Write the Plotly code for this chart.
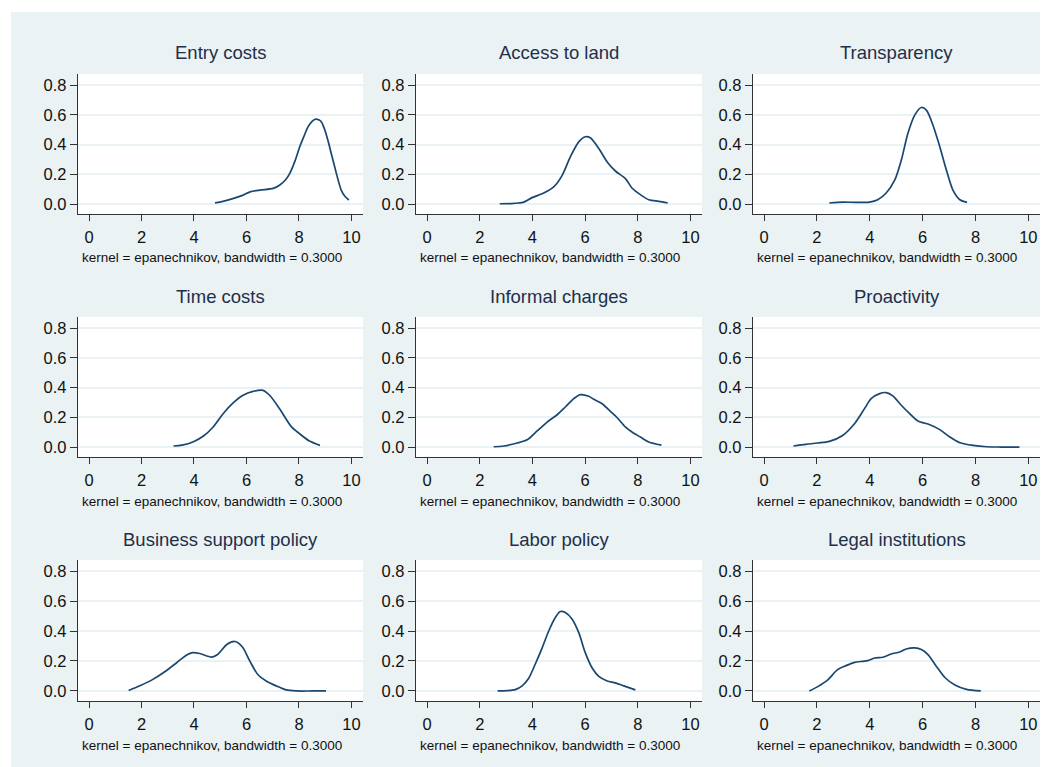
import plotly.graph_objects as go

# ---------------- data ----------------
titles = ["Entry costs", "Access to land", "Transparency",
          "Time costs", "Informal charges", "Proactivity",
          "Business support policy", "Labor policy", "Legal institutions"]

entry_x = [4.80, 5.10, 5.51, 5.85, 6.14, 6.52, 7.02, 7.27, 7.50, 7.65, 7.85, 8.03, 8.20, 8.35, 8.50, 8.64, 8.75, 8.85, 8.97, 9.10, 9.23, 9.36, 9.48, 9.61, 9.75, 9.90]
entry_y = [0.008, 0.018, 0.038, 0.058, 0.082, 0.094, 0.105, 0.128, 0.165, 0.206, 0.290, 0.385, 0.460, 0.520, 0.556, 0.571, 0.566, 0.553, 0.505, 0.430, 0.340, 0.251, 0.170, 0.094, 0.052, 0.027]

land_x = [2.76, 3.20, 3.48, 3.67, 3.99, 4.43, 4.81, 5.13, 5.44, 5.76, 6.01, 6.20, 6.52, 6.84, 7.15, 7.53, 7.78, 8.10, 8.42, 8.80, 9.14]
land_y = [0.002, 0.003, 0.007, 0.013, 0.043, 0.074, 0.115, 0.193, 0.317, 0.418, 0.452, 0.445, 0.373, 0.283, 0.222, 0.171, 0.108, 0.063, 0.029, 0.018, 0.007]

transp_x = [2.47, 2.97, 3.48, 3.99, 4.30, 4.62, 4.94, 5.19, 5.44, 5.70, 5.95, 6.14, 6.39, 6.65, 6.90, 7.15, 7.41, 7.68]
transp_y = [0.007, 0.013, 0.011, 0.013, 0.029, 0.074, 0.160, 0.294, 0.474, 0.598, 0.649, 0.631, 0.530, 0.384, 0.227, 0.092, 0.029, 0.011]

time_x = [3.22, 3.54, 3.98, 4.36, 4.73, 5.11, 5.49, 5.87, 6.25, 6.63, 6.88, 7.26, 7.70, 8.02, 8.40, 8.80]
time_y = [0.007, 0.013, 0.036, 0.074, 0.135, 0.224, 0.296, 0.348, 0.374, 0.381, 0.348, 0.258, 0.139, 0.090, 0.040, 0.011]

informal_x = [2.53, 2.91, 3.42, 3.80, 4.18, 4.56, 4.94, 5.25, 5.57, 5.82, 6.14, 6.33, 6.65, 6.96, 7.22, 7.53, 7.78, 8.10, 8.42, 8.90]
informal_y = [0.002, 0.007, 0.027, 0.049, 0.108, 0.168, 0.217, 0.269, 0.325, 0.352, 0.341, 0.321, 0.291, 0.240, 0.197, 0.135, 0.101, 0.067, 0.034, 0.013]

proact_x = [1.11, 1.58, 2.03, 2.47, 2.97, 3.42, 3.80, 4.05, 4.37, 4.62, 4.87, 5.19, 5.51, 5.82, 6.27, 6.65, 7.03, 7.41, 7.91, 8.42, 8.92, 9.66]
proact_y = [0.007, 0.018, 0.027, 0.038, 0.078, 0.157, 0.258, 0.325, 0.359, 0.366, 0.344, 0.281, 0.224, 0.175, 0.150, 0.117, 0.067, 0.029, 0.011, 0.002, 0.000, 0.000]

business_x = [1.51, 1.96, 2.40, 2.90, 3.35, 3.72, 3.95, 4.22, 4.67, 4.90, 5.25, 5.56, 5.84, 6.12, 6.44, 6.75, 7.13, 7.51, 7.89, 8.52, 9.03]
business_y = [0.003, 0.036, 0.074, 0.130, 0.190, 0.240, 0.256, 0.250, 0.226, 0.243, 0.310, 0.330, 0.295, 0.202, 0.108, 0.067, 0.034, 0.007, 0.000, 0.000, 0.000]

labor_x = [2.68, 3.04, 3.35, 3.61, 3.86, 4.11, 4.37, 4.62, 4.87, 5.06, 5.25, 5.51, 5.76, 6.01, 6.27, 6.52, 6.84, 7.15, 7.47, 7.91]
labor_y = [0.000, 0.002, 0.009, 0.034, 0.085, 0.180, 0.288, 0.400, 0.490, 0.530, 0.524, 0.479, 0.389, 0.254, 0.153, 0.097, 0.067, 0.054, 0.034, 0.007]

legal_x = [1.71, 2.03, 2.41, 2.78, 3.10, 3.42, 3.73, 3.92, 4.18, 4.49, 4.81, 5.13, 5.38, 5.70, 5.95, 6.20, 6.52, 6.84, 7.22, 7.66, 8.20]
legal_y = [0.000, 0.029, 0.074, 0.142, 0.169, 0.191, 0.198, 0.202, 0.220, 0.225, 0.247, 0.260, 0.280, 0.287, 0.276, 0.243, 0.164, 0.090, 0.040, 0.011, 0.000]

x_ticks = [0, 2, 4, 6, 8, 10]
y_ticks = [0.0, 0.2, 0.4, 0.6, 0.8]
y_ticklabels = ["0.0", "0.2", "0.4", "0.6", "0.8"]
note_text = "kernel = epanechnikov, bandwidth = 0.3000"

series = [(entry_x, entry_y), (land_x, land_y), (transp_x, transp_y),
          (time_x, time_y), (informal_x, informal_y), (proact_x, proact_y),
          (business_x, business_y), (labor_x, labor_y), (legal_x, legal_y)]

# ---------------- layout geometry (page pixels; page has 8px body margin) ----------------
OFF = 8
W, H = 1040, 759
col_px = [(78, 363), (416, 702), (753, 1040)]
row_px = [(74, 214), (317, 457), (560, 701)]


def px_x(p):
    return (p - OFF) / W


def px_y(p):
    return 1 - (p - OFF) / H


BG = "#EAF2F3"
LINE = "#1a476f"
FONT = "Liberation Sans, Arial, sans-serif"

fig = go.Figure()
layout = dict(
    width=W, height=H,
    margin=dict(l=0, r=0, t=0, b=0),
    paper_bgcolor=BG, plot_bgcolor="white",
    showlegend=False,
    font=dict(family=FONT, color="#111111"),
    shapes=[
        dict(type="rect", xref="paper", yref="paper", x0=0, x1=px_x(11), y0=0, y1=1,
             fillcolor="white", line=dict(width=0), layer="below"),
        dict(type="rect", xref="paper", yref="paper", x0=0, x1=1, y0=px_y(12), y1=1,
             fillcolor="white", line=dict(width=0), layer="below"),
    ],
    annotations=[],
)

for i, (xs, ys) in enumerate(series):
    r, c = divmod(i, 3)
    k = "" if i == 0 else str(i + 1)
    x0p, x1p = col_px[c]
    top, bot = row_px[r]
    fig.add_trace(go.Scatter(x=xs, y=ys, mode="lines", xaxis="x" + k, yaxis="y" + k,
                             line=dict(color=LINE, width=1.7, shape="spline", smoothing=0.8),
                             hoverinfo="skip"))
    layout["xaxis" + k] = dict(
        domain=[px_x(x0p), px_x(x1p)], anchor="y" + k,
        range=[-0.42, 10.44], tickvals=x_ticks, ticks="outside", ticklen=6,
        tickcolor="#333333", tickwidth=1.2, showline=True, linecolor="#333333", linewidth=1.3,
        showgrid=False, zeroline=False, tickfont=dict(size=16.5, color="#111111"),
        ticklabelstandoff=2,
    )
    layout["yaxis" + k] = dict(
        domain=[px_y(bot), px_y(top)], anchor="x" + k,
        range=[-0.067, 0.874], tickvals=y_ticks, ticktext=y_ticklabels, ticks="outside",
        ticklen=7, tickcolor="#333333", tickwidth=1.2, showline=True, linecolor="#333333",
        linewidth=1.3, showgrid=True, gridcolor=BG, gridwidth=1.6, zeroline=False,
        tickfont=dict(size=16.5, color="#111111"), ticklabelstandoff=0,
    )
    # subplot title
    layout["annotations"].append(dict(
        text=titles[i], xref="paper", yref="paper",
        x=px_x((x0p + x1p) / 2), y=px_y(top - 21), xanchor="center", yanchor="middle",
        showarrow=False, font=dict(size=18.5, color="#1e2f4a", family=FONT)))
    # note
    layout["annotations"].append(dict(
        text=note_text, xref="paper", yref="paper",
        x=px_x(x0p + 2), y=px_y(bot + 44), xanchor="left", yanchor="middle",
        showarrow=False, font=dict(size=13.5, color="#111111", family=FONT)))

fig.update_layout(**layout)
fig.write_html("out.html")
